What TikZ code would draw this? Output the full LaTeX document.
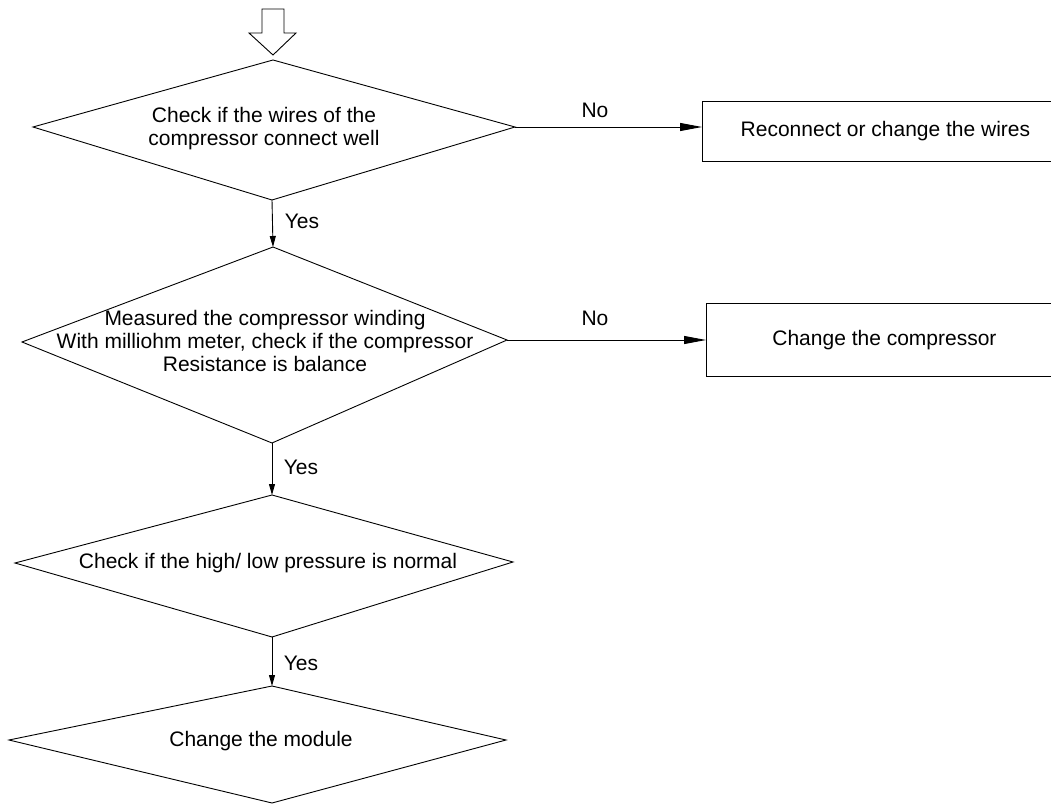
\documentclass[tikz,border=0pt]{standalone}
\usepackage{fontspec}
\setmainfont{Liberation Sans}
\usetikzlibrary{arrows.meta}
\begin{document}
\begin{tikzpicture}[x=1pt,y=-1pt,
  line width=0.9pt,
  txt/.style={align=center,inner sep=0pt,font=\fontsize{21}{23}\selectfont},
  lbl/.style={inner sep=0pt,font=\fontsize{21}{23}\selectfont},
  box/.style={draw,line width=0.9pt,inner sep=0pt,anchor=west,font=\fontsize{21}{23}\selectfont},
  harr/.style={-{Triangle[length=22pt,width=8pt]}},
  varr/.style={-{Triangle[length=11pt,width=6pt]}},
  dia/.style={line width=0.9pt,line join=miter}]
\clip (0,0) rectangle (1051,805);
\fill[white] (0,0) rectangle (1051,805);
% top hollow arrow
\coordinate (start) at (273,55);
\draw[line width=0.9pt] (262,9) -- (284,9) -- (284,33) -- (296,33) -- (start) -- (249,33) -- (262,33) -- cycle;
% diamond 1
\coordinate (d1t) at (273,60);
\coordinate (d1r) at (515,127);
\coordinate (d1b) at (272,200);
\coordinate (d1l) at (33,127);
\draw[dia] (d1t) -- (d1r) -- (d1b) -- (d1l) -- cycle;
\node[txt] (d1) at (264,129) {Check if the wires of the\\compressor connect well};
% diamond 2
\coordinate (d2t) at (273,247);
\coordinate (d2r) at (507,340);
\coordinate (d2b) at (272,443);
\coordinate (d2l) at (22,342);
\draw[dia] (d2t) -- (d2r) -- (d2b) -- (d2l) -- cycle;
\node[txt] (d2) at (265,341) {Measured the compressor winding\\With milliohm meter, check if the compressor\\Resistance is balance};
% diamond 3
\coordinate (d3t) at (272,495);
\coordinate (d3r) at (513,562);
\coordinate (d3b) at (272,637);
\coordinate (d3l) at (15,563);
\draw[dia] (d3t) -- (d3r) -- (d3b) -- (d3l) -- cycle;
\node[txt] (d3) at (268,563) {Check if the high/ low pressure is normal};
% diamond 4
\coordinate (d4t) at (272,686);
\coordinate (d4r) at (506,740);
\coordinate (d4b) at (272,803);
\coordinate (d4l) at (9,740);
\draw[dia] (d4t) -- (d4r) -- (d4b) -- (d4l) -- cycle;
\node[txt] (d4) at (261,741) {Change the module};
% boxes
\node[box,minimum height=60pt,minimum width=366pt,text depth=0pt] (b1) at (702,131) {\raisebox{4pt}{Reconnect or change the wires}};
\node[box,minimum height=73pt,minimum width=356pt] (b2) at (706,340) {Change the compressor};
% connectors
\draw[harr] (d1r) -- (d1r -| b1.west);
\draw[harr] (d2r) -- (b2.west);
\draw[varr] (d1b) -- (d2t);
\draw[varr] (d2b) -- (d3t);
\draw[varr] (d3b) -- (d4t);
% labels
\node[lbl] (no1) at (595,110) {No};
\node[lbl] (no2) at (595,318) {No};
\node[lbl] (yes1) at (302,221) {Yes};
\node[lbl] (yes2) at (301,467) {Yes};
\node[lbl] (yes3) at (301,663) {Yes};
\end{tikzpicture}
\end{document}
